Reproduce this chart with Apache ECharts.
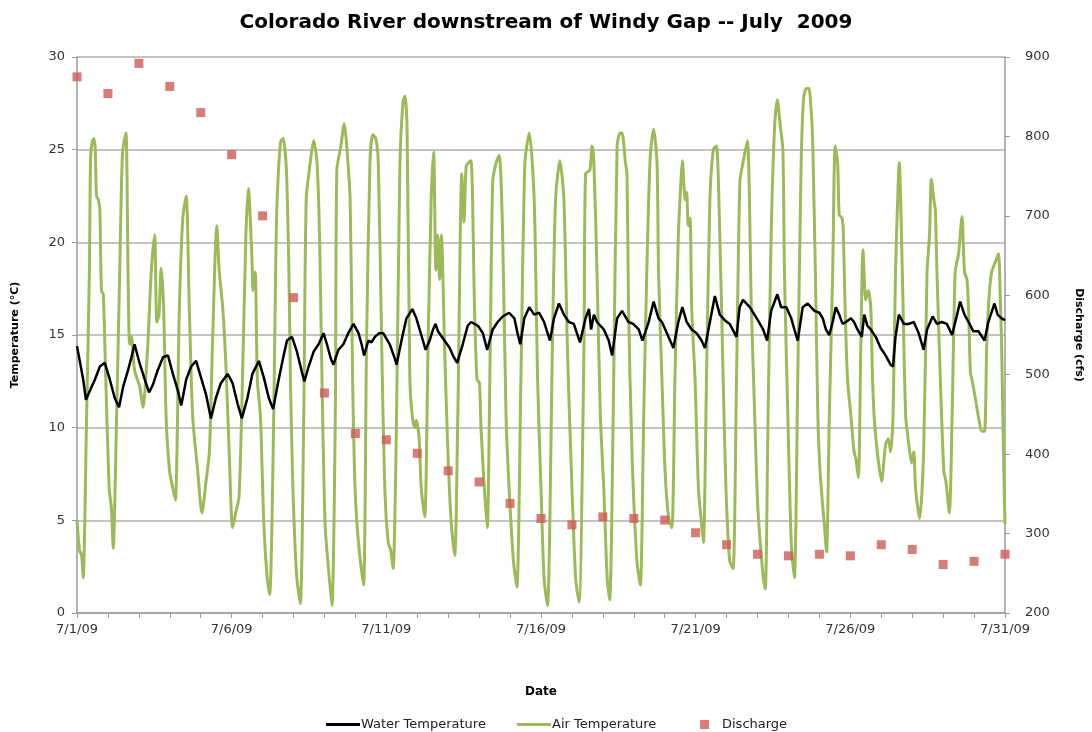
<!DOCTYPE html>
<html>
<head>
<meta charset="utf-8">
<script src="https://cdn.jsdelivr.net/npm/echarts@6/dist/echarts.min.js"></script>
<style>
  html, body { margin: 0; padding: 0; background: #fff; }
  #chart { width: 1092px; height: 732px; }
</style>
</head>
<body>
<div id="chart"></div>
<script>
// x values are days after 7/1/09 00:00
const dateLabels = ["7/1/09", "7/6/09", "7/11/09", "7/16/09", "7/21/09", "7/26/09", "7/31/09"];

// daily discharge (cfs), 7/1 .. 7/31
const discharge = [875, 854, 892, 863, 830, 777, 700, 597, 477, 426, 418, 401, 379, 365, 338, 319,
  311, 321, 319, 317, 301, 286, 274, 272, 274, 272, 286, 280, 261, 265, 274];

// water temperature (°C), [day, value]
const waterTemp = [
  [0, 14.4], [0.1, 13.5], [0.2, 12.6], [0.29, 11.5], [0.42, 12.0], [0.58, 12.6], [0.74, 13.3], [0.9, 13.5],
  [1.06, 12.6], [1.22, 11.6], [1.36, 11.1], [1.49, 12.2], [1.65, 13.1], [1.76, 13.8], [1.86, 14.5],
  [2.02, 13.5], [2.19, 12.6], [2.33, 11.9], [2.45, 12.3], [2.61, 13.1], [2.78, 13.8], [2.94, 13.9],
  [3.1, 12.9], [3.26, 12.0], [3.37, 11.2], [3.53, 12.6], [3.69, 13.3], [3.85, 13.6],
  [4.01, 12.7], [4.17, 11.8], [4.33, 10.5], [4.49, 11.6], [4.65, 12.4], [4.87, 12.9],
  [5.03, 12.4], [5.19, 11.3], [5.33, 10.5], [5.51, 11.6], [5.67, 12.9], [5.88, 13.6],
  [6.04, 12.7], [6.2, 11.6], [6.34, 11.0], [6.52, 12.6], [6.68, 13.9], [6.79, 14.7], [6.95, 14.9],
  [7.11, 14.1], [7.27, 13.0], [7.35, 12.5], [7.49, 13.3], [7.65, 14.1], [7.81, 14.5], [7.97, 15.1],
  [8.08, 14.5], [8.21, 13.7], [8.29, 13.4], [8.45, 14.2], [8.61, 14.5], [8.77, 15.1], [8.94, 15.6],
  [9.1, 15.1], [9.2, 14.5], [9.28, 13.9], [9.42, 14.7], [9.52, 14.6], [9.63, 14.9], [9.77, 15.1], [9.9, 15.1],
  [10.11, 14.5], [10.28, 13.7], [10.33, 13.4], [10.49, 14.7], [10.65, 15.9], [10.84, 16.4],
  [10.97, 15.9], [11.13, 15.0], [11.27, 14.2], [11.4, 14.7], [11.51, 15.3], [11.59, 15.6],
  [11.67, 15.2], [11.88, 14.7], [12.05, 14.3], [12.15, 13.9], [12.29, 13.5], [12.47, 14.5], [12.63, 15.5], [12.74, 15.7],
  [12.96, 15.5], [13.12, 15.1], [13.26, 14.2], [13.44, 15.3], [13.6, 15.7], [13.76, 16.0], [13.97, 16.2],
  [14.14, 15.9], [14.24, 15.1], [14.33, 14.5], [14.46, 15.9], [14.62, 16.5], [14.78, 16.1], [14.94, 16.2],
  [15.1, 15.7], [15.29, 14.7], [15.42, 15.9], [15.58, 16.7], [15.74, 16.1], [15.9, 15.7],
  [16.06, 15.6], [16.26, 14.6], [16.44, 15.9], [16.55, 16.4], [16.62, 15.3], [16.71, 16.1], [16.81, 15.7],
  [17.03, 15.3], [17.19, 14.7], [17.3, 13.9], [17.46, 15.9], [17.62, 16.3], [17.83, 15.7], [17.98, 15.6],
  [18.16, 15.3], [18.28, 14.7], [18.48, 15.7], [18.64, 16.8], [18.8, 15.9], [18.91, 15.7],
  [19.12, 14.9], [19.28, 14.3], [19.44, 15.7], [19.57, 16.5], [19.71, 15.7], [19.87, 15.3],
  [20.03, 15.1], [20.19, 14.7], [20.3, 14.3], [20.46, 15.7], [20.62, 17.1], [20.78, 16.1], [20.94, 15.8],
  [21.1, 15.6], [21.32, 14.9], [21.42, 16.5], [21.53, 16.9], [21.75, 16.5],
  [22.01, 15.8], [22.18, 15.3], [22.31, 14.7], [22.44, 16.3], [22.64, 17.2], [22.76, 16.5], [22.93, 16.5],
  [23.09, 15.9], [23.19, 15.3], [23.3, 14.7], [23.46, 16.5], [23.62, 16.7], [23.84, 16.3],
  [24.0, 16.2], [24.11, 15.9], [24.21, 15.3], [24.32, 15.0], [24.43, 15.7], [24.53, 16.5], [24.64, 16.1],
  [24.75, 15.6], [24.86, 15.7], [25.02, 15.9], [25.12, 15.7], [25.23, 15.3], [25.37, 14.9], [25.45, 16.1],
  [25.55, 15.5], [25.66, 15.3], [25.82, 14.9], [25.98, 14.3], [26.14, 13.9], [26.3, 13.4], [26.38, 13.3],
  [26.46, 14.9], [26.57, 16.1], [26.73, 15.6], [26.89, 15.6], [27.05, 15.7], [27.21, 15.1], [27.37, 14.2],
  [27.48, 15.3], [27.66, 16.0], [27.8, 15.6], [27.96, 15.7], [28.12, 15.6], [28.29, 15.0], [28.45, 16.1],
  [28.55, 16.8], [28.69, 16.1], [28.82, 15.7], [28.98, 15.2], [29.14, 15.2], [29.34, 14.7], [29.46, 15.7],
  [29.66, 16.7], [29.76, 16.1], [29.89, 15.9], [30.0, 15.8]
];

// air temperature (°C), [day, value]
const airTemp = [
  [0, 5.0], [0.08, 3.4], [0.15, 3.1], [0.2, 1.9], [0.31, 10.6], [0.4, 18.4], [0.44, 24.6], [0.5, 25.5],
  [0.55, 25.6], [0.59, 25.0], [0.63, 22.5], [0.69, 22.3], [0.74, 21.7], [0.79, 17.4], [0.85, 17.2],
  [0.93, 12.6], [1.04, 6.7], [1.11, 5.7], [1.17, 3.5], [1.28, 10.6], [1.38, 18.4], [1.47, 24.8], [1.58, 25.9],
  [1.65, 18.4], [1.7, 14.5], [1.76, 14.9], [1.86, 13.1], [2.03, 12.2], [2.13, 11.1], [2.29, 14.5], [2.4, 18.4],
  [2.51, 20.4], [2.58, 15.7], [2.65, 16.1], [2.72, 18.6], [2.8, 16.5], [2.88, 10.6], [2.99, 7.7], [3.1, 6.7],
  [3.18, 6.1], [3.31, 16.5], [3.42, 21.3], [3.53, 22.5], [3.63, 16.5], [3.74, 10.6], [3.9, 7.7], [4.04, 5.4],
  [4.17, 7.1], [4.28, 8.7], [4.38, 14.5], [4.52, 20.9], [4.6, 18.4], [4.71, 16.5], [4.81, 13.5], [4.92, 8.7],
  [5.03, 4.6], [5.13, 5.4], [5.24, 6.3], [5.35, 12.6], [5.46, 20.4], [5.54, 22.9], [5.65, 19.4], [5.69, 17.4],
  [5.76, 18.4], [5.83, 12.6], [5.93, 10.6], [6.04, 4.8], [6.15, 1.85], [6.23, 1.0], [6.36, 10.6], [6.42, 18.4],
  [6.47, 22.3], [6.58, 25.4], [6.66, 25.6], [6.77, 23.9], [6.85, 18.4], [6.9, 12.6], [6.98, 6.7], [7.06, 3.2],
  [7.11, 1.85], [7.22, 0.5], [7.33, 10.6], [7.41, 22.3], [7.54, 24.3], [7.65, 25.5], [7.76, 24.3], [7.84, 20.4],
  [7.92, 12.6], [8.02, 4.8], [8.13, 2.4], [8.24, 0.4], [8.35, 10.6], [8.4, 23.9], [8.53, 25.2], [8.64, 26.4],
  [8.72, 25.2], [8.83, 22.3], [8.91, 12.6], [8.99, 6.7], [9.1, 3.8], [9.26, 1.5], [9.36, 14.5], [9.47, 24.3],
  [9.56, 25.8], [9.66, 25.6], [9.74, 24.3], [9.85, 14.5], [9.95, 6.7], [10.06, 3.8], [10.14, 3.4], [10.22, 2.4],
  [10.33, 10.6], [10.44, 24.3], [10.54, 27.6], [10.6, 27.9], [10.67, 26.2], [10.76, 12.6], [10.84, 10.6],
  [10.92, 10.0], [10.97, 10.4], [11.06, 9.4], [11.13, 6.7], [11.24, 5.2], [11.35, 14.5], [11.45, 22.3],
  [11.53, 24.9], [11.6, 18.5], [11.66, 20.4], [11.72, 18.0], [11.78, 20.4], [11.88, 14.5], [11.99, 8.7],
  [12.1, 4.8], [12.21, 3.1], [12.31, 10.6], [12.44, 23.7], [12.51, 21.1], [12.58, 24.1], [12.66, 24.3],
  [12.74, 24.4], [12.85, 16.5], [12.93, 12.6], [13.01, 12.4], [13.06, 10.0], [13.17, 6.7], [13.26, 4.6],
  [13.36, 14.5], [13.44, 23.3], [13.55, 24.3], [13.65, 24.7], [13.76, 20.4], [13.87, 10.6], [13.97, 6.7],
  [14.11, 2.8], [14.22, 1.4], [14.35, 12.6], [14.48, 24.3], [14.62, 25.9], [14.78, 22.3], [14.89, 12.6],
  [15.0, 6.7], [15.1, 1.85], [15.21, 0.4], [15.37, 14.5], [15.47, 22.3], [15.61, 24.4], [15.74, 22.3],
  [15.85, 14.5], [15.96, 8.7], [16.12, 1.85], [16.23, 0.6], [16.39, 14.5], [16.44, 23.7], [16.58, 23.9],
  [16.65, 25.2], [16.71, 24.3], [16.81, 18.4], [16.92, 10.6], [17.03, 6.7], [17.14, 1.85], [17.22, 0.7],
  [17.35, 12.6], [17.46, 25.2], [17.56, 25.9], [17.62, 25.9], [17.73, 24.3], [17.78, 23.7], [17.83, 16.5],
  [17.94, 8.7], [18.1, 2.8], [18.21, 1.5], [18.32, 10.6], [18.42, 18.4], [18.53, 24.6], [18.64, 26.1],
  [18.75, 24.3], [18.8, 18.4], [18.91, 12.6], [19.01, 7.7], [19.12, 5.2], [19.23, 4.6], [19.33, 12.6],
  [19.44, 20.4], [19.53, 23.5], [19.57, 24.4], [19.66, 22.3], [19.71, 22.7], [19.76, 20.9], [19.82, 21.3],
  [19.87, 16.5], [19.98, 12.6], [20.09, 6.7], [20.19, 4.8], [20.25, 3.8], [20.35, 12.6], [20.46, 22.3],
  [20.57, 25.0], [20.67, 25.2], [20.78, 20.4], [20.89, 12.6], [20.98, 6.7], [21.1, 2.8], [21.21, 2.4],
  [21.32, 12.6], [21.43, 23.3], [21.53, 24.3], [21.67, 25.5], [21.8, 16.5], [21.91, 10.6], [22.01, 5.7],
  [22.18, 2.0], [22.25, 1.3], [22.34, 10.6], [22.44, 20.4], [22.55, 26.2], [22.64, 27.7], [22.74, 26.2],
  [22.82, 25.0], [22.87, 18.4], [22.98, 10.6], [23.09, 3.8], [23.19, 1.9], [23.3, 12.6], [23.41, 24.3],
  [23.49, 27.8], [23.58, 28.3], [23.66, 28.3], [23.73, 27.2], [23.78, 25.6], [23.87, 18.4], [23.95, 10.6],
  [24.02, 7.7], [24.11, 5.7], [24.16, 4.8], [24.23, 3.3], [24.32, 10.6], [24.43, 18.4], [24.51, 25.2],
  [24.59, 24.3], [24.64, 21.5], [24.73, 21.3], [24.77, 20.7], [24.83, 16.5], [24.91, 12.6], [25.02, 10.6],
  [25.12, 8.7], [25.18, 8.3], [25.26, 7.3], [25.34, 14.5], [25.41, 19.6], [25.5, 16.9], [25.58, 17.4],
  [25.66, 16.5], [25.71, 13.1], [25.77, 10.6], [25.87, 8.7], [26.01, 7.1], [26.14, 9.1], [26.23, 9.4],
  [26.3, 8.7], [26.38, 10.6], [26.46, 18.4], [26.53, 22.3], [26.58, 24.3], [26.68, 18.4], [26.79, 10.6],
  [26.89, 9.1], [26.98, 8.1], [27.05, 8.7], [27.11, 6.7], [27.24, 5.1], [27.37, 8.7], [27.48, 18.4],
  [27.56, 20.4], [27.62, 23.4], [27.7, 22.3], [27.75, 21.7], [27.8, 18.4], [27.91, 12.6], [28.02, 7.7],
  [28.09, 7.1], [28.2, 5.4], [28.29, 10.6], [28.39, 18.4], [28.5, 19.4], [28.61, 21.4], [28.69, 18.4],
  [28.77, 18.0], [28.82, 16.5], [28.88, 13.0], [28.93, 12.6], [29.04, 11.6], [29.14, 10.6], [29.25, 9.8],
  [29.34, 9.8], [29.41, 14.5], [29.49, 17.2], [29.57, 18.4], [29.7, 19.0], [29.79, 19.4], [29.84, 17.4],
  [29.89, 14.5], [29.95, 8.7], [30.0, 4.8]
];

const chart = echarts.init(document.getElementById("chart"));

const font = "DejaVu Sans";
const gridGray = "#c4c4c4";
const axisGray = "#9a9a9a";

const option = {
  animation: false,
  backgroundColor: "#fff",
  textStyle: { fontFamily: font },
  title: {
    text: "Colorado River downstream of Windy Gap -- July  2009",
    left: "center",
    top: 8,
    textStyle: { fontFamily: font, fontSize: 20, fontWeight: "bold", color: "#000" },
  },
  grid: { left: 77, right: 82, top: 57, bottom: 119, containLabel: false },
  legend: [
    {
      data: ["Water Temperature"],
      left: 321, top: 713,
      icon: "rect", itemWidth: 34, itemHeight: 3, itemGap: 0,
      textStyle: { fontFamily: font, fontSize: 13, color: "#222", padding: [0, 0, 0, -4] },
    },
    {
      data: ["Air Temperature"],
      left: 512, top: 713,
      icon: "rect", itemWidth: 34, itemHeight: 3, itemGap: 0,
      textStyle: { fontFamily: font, fontSize: 13, color: "#222", padding: [0, 0, 0, -4] },
    },
    {
      data: ["Discharge"],
      left: 695, top: 713,
      icon: "rect", itemWidth: 9, itemHeight: 9, itemGap: 0,
      textStyle: { fontFamily: font, fontSize: 13, color: "#222", padding: [0, 0, 0, 8] },
    },
  ],
  xAxis: {
    type: "value",
    min: 0, max: 30, interval: 1,
    name: "Date",
    nameLocation: "middle",
    nameGap: 73,
    nameTextStyle: { fontFamily: font, fontSize: 12, fontWeight: "bold", color: "#000" },
    axisLine: { onZero: false, lineStyle: { color: axisGray, width: 1.5 } },
    axisTick: { length: 5, lineStyle: { color: axisGray } },
    axisLabel: {
      margin: 10,
      fontSize: 13,
      color: "#333",
      formatter: (v) => (v % 5 === 0 ? dateLabels[v / 5] : ""),
    },
    splitLine: { show: false },
  },
  yAxis: [
    {
      type: "value",
      min: 0, max: 30, interval: 5,
      name: "Temperature (°C)",
      nameLocation: "middle",
      nameRotate: 90,
      nameGap: 56,
      nameTextStyle: { fontFamily: font, fontSize: 11, fontWeight: "bold", color: "#000" },
      axisLine: { show: true, onZero: false, lineStyle: { color: axisGray, width: 1.5 } },
      axisTick: { show: true, length: 5, lineStyle: { color: axisGray } },
      axisLabel: { margin: 12, fontSize: 13, color: "#333" },
      splitLine: { show: true, lineStyle: { color: gridGray, width: 2 } },
    },
    {
      type: "value",
      min: 200, max: 900, interval: 100,
      position: "right",
      name: "Discharge (cfs)",
      nameLocation: "middle",
      nameRotate: -90,
      nameGap: 68,
      nameTextStyle: { fontFamily: font, fontSize: 11, fontWeight: "bold", color: "#000" },
      axisLine: { show: true, onZero: false, lineStyle: { color: axisGray, width: 1.5 } },
      axisTick: { show: true, length: 5, lineStyle: { color: axisGray } },
      axisLabel: { margin: 20, fontSize: 13, color: "#333" },
      splitLine: { show: false },
    },
  ],
  series: [
    {
      name: "Water Temperature",
      type: "line",
      data: waterTemp,
      showSymbol: false,
      color: "#000",
      lineStyle: { color: "#000", width: 2.5 },
      z: 3,
    },
    {
      name: "Air Temperature",
      type: "line",
      data: airTemp,
      showSymbol: false,
      smooth: 0.25,
      color: "#9bbb59",
      lineStyle: { color: "#9bbb59", width: 3 },
      z: 2,
    },
    {
      name: "Discharge",
      type: "scatter",
      yAxisIndex: 1,
      data: discharge.map((v, i) => [i, v]),
      symbol: "rect",
      symbolSize: 9,
      itemStyle: { color: "#cd5b54" },
      z: 4,
    },
  ],
};

chart.setOption(option);
</script>
</body>
</html>
